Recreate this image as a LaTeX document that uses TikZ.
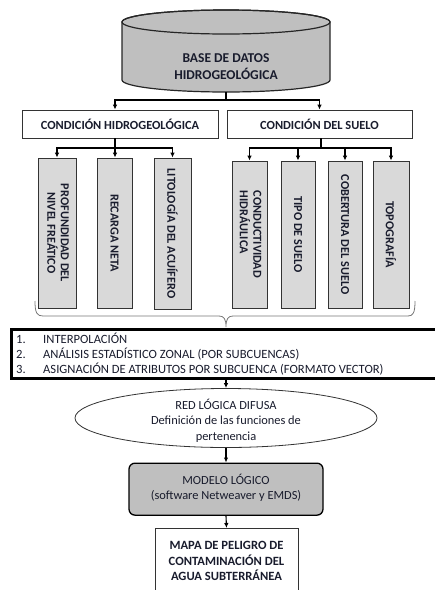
\documentclass[tikz,border=0pt]{standalone}
\usepackage{fontspec}
\setmainfont{Carlito}
\usetikzlibrary{arrows.meta,shapes.geometric}
\definecolor{txt}{RGB}{25,28,45}
\definecolor{darkfill}{RGB}{191,191,191}
\definecolor{lightfill}{RGB}{217,217,217}
\definecolor{bracec}{RGB}{120,120,120}
\tikzset{
  every node/.style={text=txt, font=\fontsize{12.4}{15.5}\selectfont, inner sep=0pt},
  conn/.style={draw=black, line width=1.1pt, -{Latex[length=5pt,width=4.5pt]}},
  plain/.style={draw=black, line width=1.1pt},
  headbox/.style={draw=black!80, line width=0.8pt, fill=white, minimum height=28pt, font=\bfseries\fontsize{12.4}{15}\selectfont},
  vbox/.style={draw=black!80, line width=0.8pt, fill=lightfill, font=\bfseries\fontsize{12.2}{14}\selectfont},
  steptext/.style={anchor=base west, font=\fontsize{12.6}{15}\selectfont},
}
\begin{document}
\begin{tikzpicture}[x=1pt,y=1pt]
\useasboundingbox (0,0) rectangle (435,-590);
\clip (0,0) rectangle (435,-590);
% cylinder
\path[draw=black!85, line width=1.2pt, fill=darkfill] (122,-22) -- (122,-80) arc (180:360:104 and 12) -- (330,-22) arc (0:180:104 and 12) -- cycle;
\draw[black!85, line width=1.2pt] (226,-22) ellipse (104 and 12);
\node[font=\bfseries\fontsize{13.5}{17}\selectfont, align=center] (db) at (226,-66.5) {BASE DE DATOS\\HIDROGEOLÓGICA};
\coordinate (dbbot) at (226,-92);
% header boxes
\node[headbox, minimum width=196pt] (ch) at (120,-124) {CONDICIÓN HIDROGEOLÓGICA};
\node[headbox, minimum width=185pt] (cs) at (319.5,-124) {CONDICIÓN DEL SUELO};
\draw[plain] (dbbot) -- (226,-100) coordinate (split);
\draw[conn] (split) -| ([xshift=-5pt]ch.north);
\draw[conn] (split) -| (cs.north);
% vertical boxes left
\node[vbox, minimum width=38pt, minimum height=150pt] (b1) at (57,-233) {\rotatebox{-90}{\begin{tabular}{@{}c@{}}PROFUNDIDAD DEL\\[-1pt]NIVEL FREÁTICO\end{tabular}}};
\node[vbox, minimum width=35pt, minimum height=150pt] (b2) at (114.5,-233) {\rotatebox{-90}{RECARGA NETA}};
\node[vbox, minimum width=37pt, minimum height=151pt] (b3) at (172.5,-233.5) {\rotatebox{-90}{LITOLOGÍA DEL ACUÍFERO}};
\coordinate (chs) at (115,-148);
\draw[plain] ([xshift=-5pt]ch.south) -- (chs);
\draw[conn] (chs) -| (b1.north);
\draw[conn] (chs) -- (b2.north -| chs);
\draw[conn] (chs) -| (b3.north);
% vertical boxes right
\node[vbox, minimum width=35pt, minimum height=147pt] (b4) at (249.5,-234.5) {\rotatebox{-90}{\begin{tabular}{@{}l@{}}CONDUCTIVIDAD\\[-1pt]HIDRÁULICA\end{tabular}}};
\node[vbox, minimum width=34pt, minimum height=147pt] (b5) at (298,-234.5) {\rotatebox{-90}{TIPO DE SUELO}};
\node[vbox, minimum width=34pt, minimum height=147pt] (b6) at (345,-234.5) {\rotatebox{-90}{COBERTURA DEL SUELO}};
\node[vbox, minimum width=36pt, minimum height=147pt] (b7) at (391,-234.5) {\rotatebox{-90}{TOPOGRAFÍA}};
\coordinate (css) at (321,-148);
\draw[plain] (cs.south -| css) -- (css);
\draw[conn] (css) -| (b4.north);
\draw[conn] (css) -| (b5.north);
\draw[conn] (css) -| (b6.north);
\draw[conn] (css) -| (b7.north);
% brace
\draw[bracec, line width=0.8pt] (35,-301) .. controls (35,-313) and (37,-316) .. (43,-316) -- (219,-316) .. controls (224,-316) and (226,-319) .. (226,-327)
  .. controls (226,-319) and (228,-316) .. (233,-316) -- (408,-316) .. controls (413,-316) and (415,-313) .. (415,-301);
% steps box
\node[draw=black, line width=3pt, minimum width=427pt, minimum height=49pt, anchor=north west] (steps) at (9.5,-328) {};
\node[steptext] (s1) at (16,-343.5) {\makebox[27pt][l]{1.}INTERPOLACIÓN};
\node[steptext] (s2) at (16,-358.5) {\makebox[27pt][l]{2.}ANÁLISIS ESTADÍSTICO ZONAL (POR SUBCUENCAS)};
\node[steptext] (s3) at (16,-373.5) {\makebox[27pt][l]{3.}ASIGNACIÓN DE ATRIBUTOS POR SUBCUENCA (FORMATO VECTOR)};
% ellipse
\node[ellipse, draw=black!80, line width=0.8pt, fill=white, minimum width=302pt, minimum height=59pt] (red) at (226,-418) {};
\node[align=center, font=\fontsize{12.4}{15.5}\selectfont] (redtext) at (226,-420.5) {RED LÓGICA DIFUSA\\Definición de las funciones de\\pertenencia};
\draw[conn] (steps.south -| red.north) -- (red.north);
% modelo
\node[draw=black, line width=1.3pt, rounded corners=6pt, fill=darkfill, minimum width=194pt, minimum height=52pt, anchor=north] (modelo) at (226,-462.5) {};
\node[align=center, font=\fontsize{12.4}{15}\selectfont] (modelotext) at (226,-488) {MODELO LÓGICO\\(software Netweaver y EMDS)};
\draw[conn] (red.south) -- (modelo.north);
% mapa
\node[draw=black!80, line width=0.8pt, fill=white, minimum width=143pt, minimum height=80pt, anchor=north] (mapa) at (226.5,-528) {};
\node[align=center, font=\bfseries\fontsize{12.6}{15.5}\selectfont] (mapatext) at (226.5,-561) {MAPA DE PELIGRO DE\\CONTAMINACIÓN DEL\\AGUA SUBTERRÁNEA};
\draw[conn] (modelo.south) -- (mapa.north);
\end{tikzpicture}
\end{document}
